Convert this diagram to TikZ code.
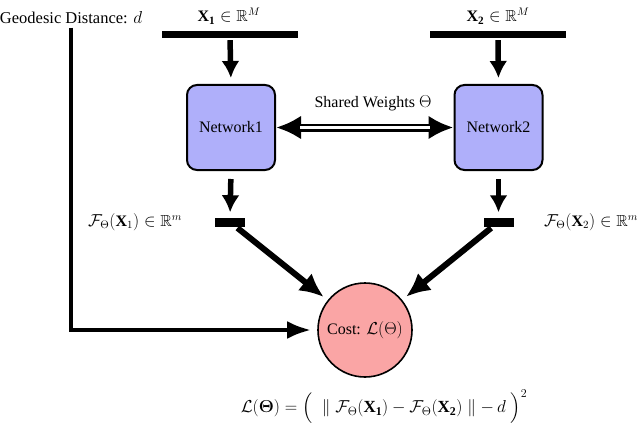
\documentclass[tikz,border=0pt]{standalone}
\usepackage{amsmath,amssymb}
\usepackage{fontspec}
\setmainfont{Liberation Serif}
\usetikzlibrary{arrows.meta}
\definecolor{netfill}{RGB}{175,175,250}
\definecolor{costfill}{RGB}{250,165,165}
\tikzset{
  every node/.style={font=\rmfamily\fontsize{16}{19}\selectfont},
  bigfont/.style={font=\rmfamily\fontsize{16.5}{20}\selectfont},
  formfont/.style={font=\rmfamily\fontsize{17}{20}\selectfont},
  inbar/.style={fill=black, draw=none, inner sep=0pt},
  netbox/.style={draw=black, line width=2pt, fill=netfill, rounded corners=10pt,
    minimum width=88pt, minimum height=85pt, inner sep=0pt},
  costnode/.style={circle, draw=black, line width=1.6pt, fill=costfill,
    minimum size=94pt, inner sep=0pt},
  fatarrow/.style={line width=5.5pt, -{Latex[length=17pt,width=18pt]}},
  diagarrow/.style={line width=6pt, -{Latex[length=24pt,width=22pt]}},
  geoarrow/.style={line width=4.5pt, -{Latex[length=24pt,width=18pt]}},
}
\begin{document}
\begin{tikzpicture}[x=1pt,y=-1pt]
\useasboundingbox (0,0) rectangle (640,428);
% labels
\node[bigfont] (geo) at (71,18) {Geodesic Distance: $d$};
\node (x1) at (229,16) {$\mathbf{X_1}\in\mathbb{R}^M$};
\node (x2) at (498,16) {$\mathbf{X_2}\in\mathbb{R}^M$};
% input bars
\node[inbar, minimum width=136pt, minimum height=7pt] (bar1) at (230,34.5) {};
\node[inbar, minimum width=136pt, minimum height=7pt] (bar2) at (498,34.5) {};
% networks
\node[netbox] (net1) at (231,127.5) {Network1};
\node[netbox] (net2) at (498.5,127.5) {Network2};
% output bars
\node[inbar, minimum width=30pt, minimum height=9pt] (sbar1) at (230,222) {};
\node[inbar, minimum width=30pt, minimum height=9pt] (sbar2) at (498.5,222) {};
\node (f1) at (135,222) {$\mathcal{F}_{\Theta}(\mathbf{X}_1)\in\mathbb{R}^m$};
\node (f2) at (591,222) {$\mathcal{F}_{\Theta}(\mathbf{X}_2)\in\mathbb{R}^m$};
% cost
\node[costnode] (cost) at (365,330) {Cost: $\mathcal{L}(\Theta)$};
% formula
\node[formfont] (formula) at (384,407) {$\mathcal{L}(\boldsymbol{\Theta}) = \Big(\;\parallel \mathcal{F}_{\Theta}(\mathbf{X_1}) - \mathcal{F}_{\Theta}(\mathbf{X_2})\parallel - \,d\;\Big)^2$};
% shared weights
\node (sw) at (373,103) {Shared Weights $\Theta$};
\draw[line width=8pt, {Latex[length=25pt,width=24pt]}-{Latex[length=25pt,width=24pt]}]
  (net1.east) -- (net2.west);
\draw[white, line width=2.4pt, shorten <=24pt, shorten >=24pt] (net1.east) -- (net2.west);
% arrows
\draw[fatarrow, shorten <=2pt, shorten >=6pt] (bar1.south) -- (net1.north);
\draw[fatarrow, shorten <=2pt, shorten >=6pt] (bar2.south) -- (net2.north);
\draw[fatarrow, shorten <=8pt, shorten >=5pt] (net1.south) -- (sbar1.north);
\draw[fatarrow, shorten <=8pt, shorten >=5pt] (net2.south) -- (sbar2.north);
\draw[diagarrow, shorten <=2pt, shorten >=5pt] (sbar1) -- (cost);
\draw[diagarrow, shorten <=2pt, shorten >=5pt] (sbar2) -- (cost);
\draw[geoarrow, shorten >=6pt] (geo.south) |- (cost.west);
\end{tikzpicture}
\end{document}
